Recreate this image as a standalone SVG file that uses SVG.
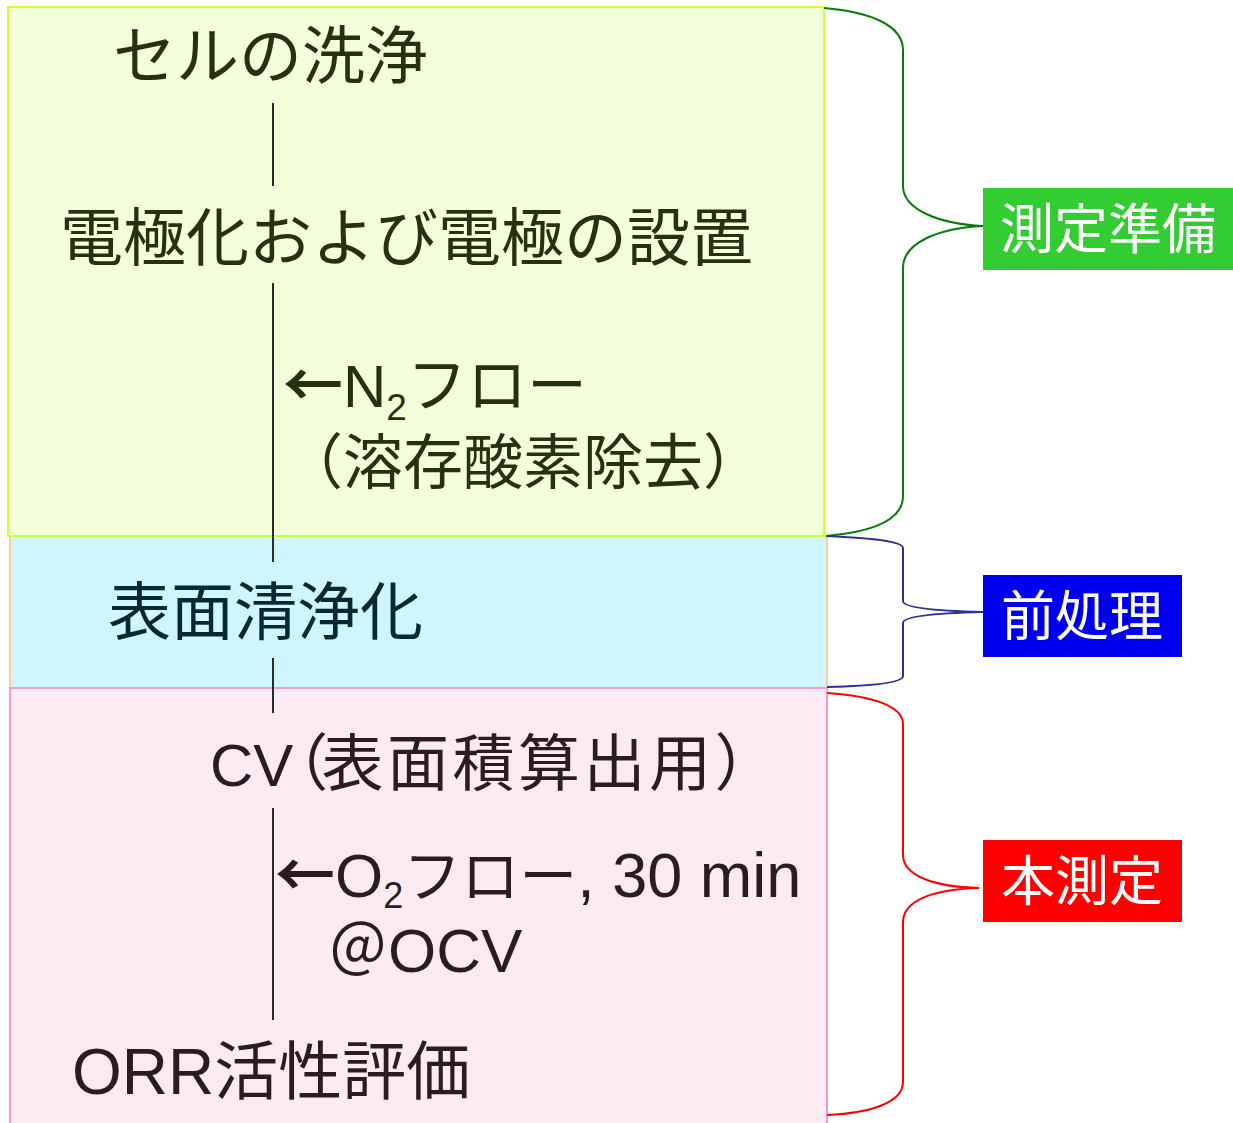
<svg xmlns="http://www.w3.org/2000/svg" width="1233" height="1123" viewBox="0 0 1233 1123">
<style>
  .jp { font-family: "Liberation Sans", "Noto Sans CJK JP", sans-serif; }
  .cjk { font-family: "Noto Sans CJK JP", sans-serif; }
  .arr { font-family: "Noto Sans CJK JP", sans-serif; font-weight: 700; }
  .tg { fill: #29300F; }
  .tb { fill: #06282E; }
  .tp { fill: #2B1C22; }
  .lbl { font-family: "Noto Sans CJK JP", sans-serif; font-size: 54px; fill: #FFFFFF; text-anchor: middle; }
  .flow { stroke: #2A2A2A; stroke-width: 2; fill: none; }
  .brace { fill: none; stroke-width: 2; }
</style>
<rect width="1233" height="1123" fill="#FFFFFF"/>

<g id="stage-prep-box">
  <rect x="10" y="536" width="817" height="152" fill="#CFF5FE" stroke="#FFCC99" stroke-width="2"/>
</g>
<g id="stage-measure-box">
  <rect x="10" y="688" width="817" height="440" fill="#FDEBF4" stroke="#FF99CC" stroke-width="2"/>
</g>
<g id="stage-setup-box">
  <rect x="8" y="7" width="816" height="529" fill="#F3FFDA" stroke="#CCFF33" stroke-width="2"/>
</g>

<g id="connectors">
  <line class="flow" x1="273" y1="103" x2="273" y2="186"/>
  <line class="flow" x1="273" y1="283" x2="273" y2="562"/>
  <line class="flow" x1="273" y1="658" x2="273" y2="713"/>
  <line class="flow" x1="273" y1="808" x2="273" y2="1020"/>
  <path class="brace" stroke="#0A7A0A" d="M824,8 C872,12 903,26 903,50 L903,186 C903,210 940,224 983,226 C940,228 903,242 903,268 L903,496 C903,520 872,532 826,536"/>
  <path class="brace" stroke="#2E3192" d="M827,536 C870,538 903,541 903,548 L903,601 C903,608 940,611 983,612 C940,613 903,616 903,623 L903,676 C903,683 870,686 827,687"/>
  <path class="brace" stroke="#FF0000" d="M827,693 C872,696 903,706 903,724 L903,855 C903,876 935,887 979,888 C935,889 903,900 903,922 L903,1082 C903,1102 872,1113 827,1115"/>
</g>

<g id="step-cell-wash">
  <text class="jp tg" x="113" y="78" font-size="63">セルの洗浄</text>
</g>
<g id="step-electrode">
  <text class="jp tg" x="60" y="260" font-size="63">電極化および電極の設置</text>
</g>
<g id="step-n2-flow">
  <text class="jp tg" x="283" y="407" font-size="60"><tspan class="arr">←</tspan>N<tspan font-size="37" dy="13">2</tspan><tspan dy="-13">フロー</tspan></text>
  <text class="jp tg" x="283" y="484" font-size="60">（溶存酸素除去）</text>
</g>
<g id="step-surface-clean">
  <text class="jp tb" x="108" y="634" font-size="63">表面清浄化</text>
</g>
<g id="step-cv">
  <text class="jp tp" x="210" y="786" font-size="60">CV<tspan font-size="62" dx="-27">（</tspan><tspan font-size="62" dx="-7" letter-spacing="3.5">表面積算出用）</tspan></text>
</g>
<g id="step-o2-flow">
  <text class="jp tp" x="275" y="897" font-size="62"><tspan class="arr" font-size="60">←</tspan>O<tspan font-size="36" dy="11">2</tspan><tspan dy="-11" font-size="58">フロー</tspan><tspan font-size="63">, 30 min</tspan></text>
  <text class="jp tp" x="328" y="972" font-size="62"><tspan class="cjk" font-size="60">＠</tspan>OCV</text>
</g>
<g id="step-orr">
  <text class="jp tp" x="72" y="1094" font-size="64">ORR活性評価</text>
</g>

<g id="label-setup">
  <rect x="983" y="188" width="250" height="82" fill="#33CC33"/>
  <text class="lbl" x="1108" y="249">測定準備</text>
</g>
<g id="label-pretreat">
  <rect x="983" y="575" width="199" height="82" fill="#0000EE"/>
  <text class="lbl" x="1082" y="636">前処理</text>
</g>
<g id="label-main">
  <rect x="983" y="840" width="199" height="82" fill="#FF0000"/>
  <text class="lbl" x="1082" y="901">本測定</text>
</g>
</svg>
